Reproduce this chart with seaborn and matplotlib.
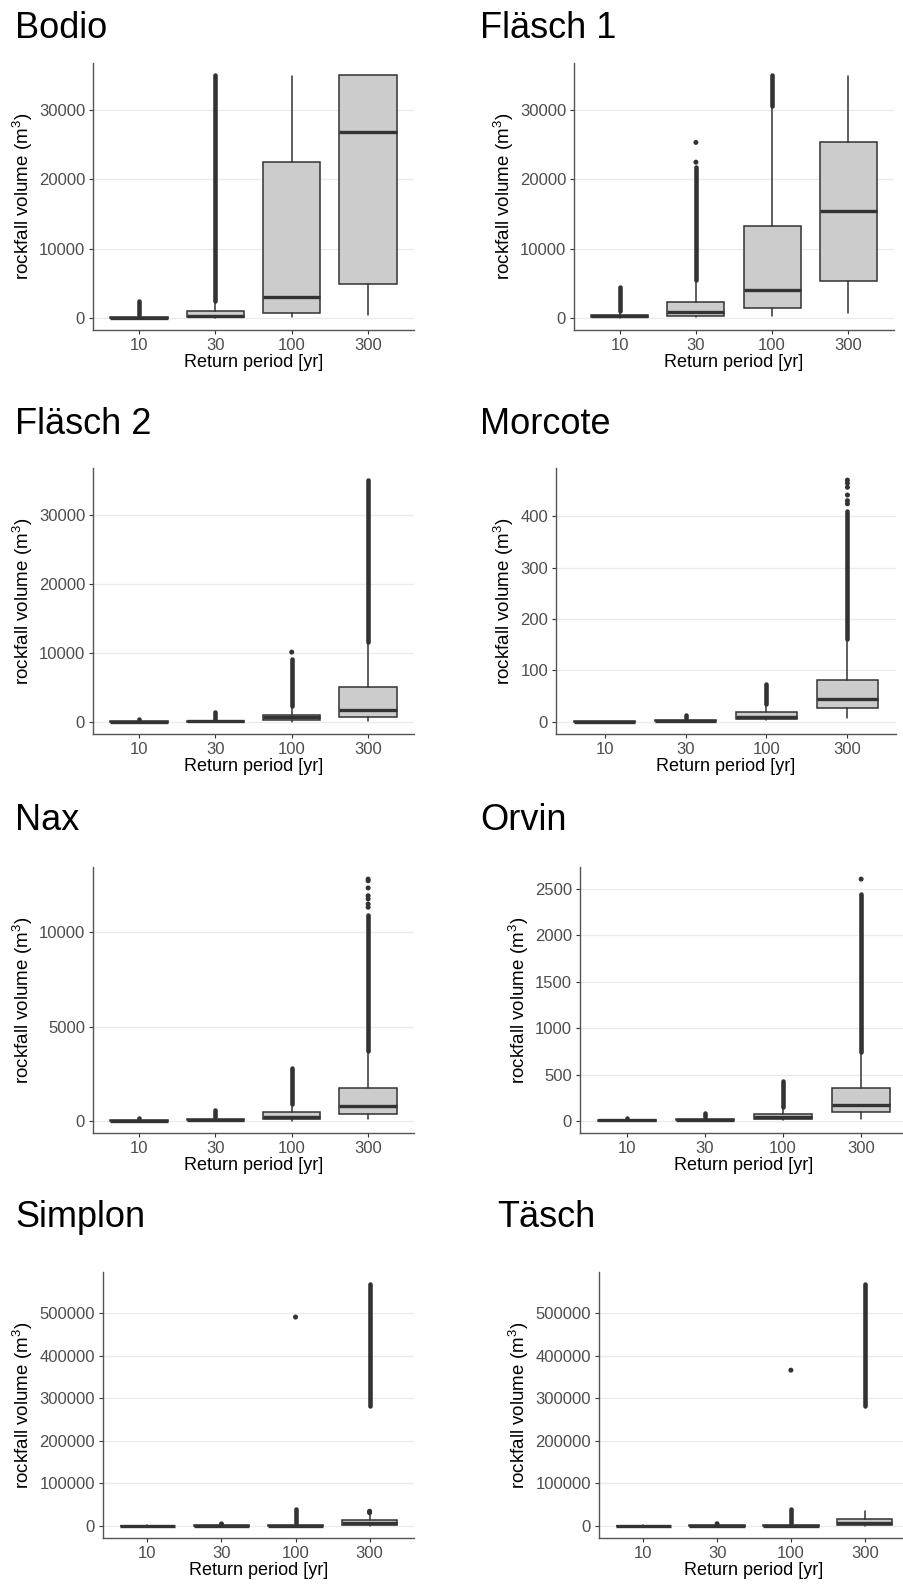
import matplotlib
matplotlib.use("Agg")
import matplotlib.pyplot as plt
import seaborn as sns
import numpy as np

# ---------------------------------------------------------------- data
periods = ["10", "30", "100", "300"]

# Bodio
bodio_q1 = [0, 60, 720, 4860]
bodio_med = [40, 250, 3030, 26770]
bodio_q3 = [120, 1000, 22530, 34950]
bodio_wlo = [0, 0, 150, 480]
bodio_whi = [300, 2300, 34900, 35000]
bodio_band_lo = [350, 2400, None, None]
bodio_band_hi = [2450, 35000, None, None]
bodio_dots = [[], [], [], []]

# Fläsch 1
flasch1_q1 = [60, 290, 1490, 5340]
flasch1_med = [250, 820, 4000, 15450]
flasch1_q3 = [480, 2310, 13190, 25320]
flasch1_wlo = [0, 100, 240, 770]
flasch1_whi = [1000, 5300, 30500, 34900]
flasch1_band_lo = [1050, 5400, 30600, None]
flasch1_band_hi = [4380, 21700, 35000, None]
flasch1_dots = [[], [22450, 25300], [], []]

# Fläsch 2
flasch2_q1 = [0, 20, 240, 670]
flasch2_med = [20, 60, 670, 1690]
flasch2_q3 = [80, 160, 1010, 5060]
flasch2_wlo = [0, 0, 20, 100]
flasch2_whi = [180, 350, 2200, 11400]
flasch2_band_lo = [200, 400, 2300, 11500]
flasch2_band_hi = [430, 1450, 9100, 35000]
flasch2_dots = [[], [], [10100], []]

# Morcote
morcote_q1 = [0.2, 1.5, 6, 27]
morcote_med = [0.5, 2.5, 10, 45]
morcote_q3 = [1.0, 4, 19, 81]
morcote_wlo = [0, 0.5, 3, 8]
morcote_whi = [2, 7, 34, 160]
morcote_band_lo = [None, 8, 35, 162]
morcote_band_hi = [None, 14, 73, 410]
morcote_dots = [[], [], [], [424, 430, 441, 456, 464, 470]]

# Nax
nax_q1 = [5, 30, 105, 370]
nax_med = [15, 50, 210, 770]
nax_q3 = [30, 90, 460, 1740]
nax_wlo = [0, 0, 20, 100]
nax_whi = [70, 170, 860, 3670]
nax_band_lo = [80, 190, 900, 3700]
nax_band_hi = [160, 600, 2780, 10900]
nax_dots = [[], [], [], [11320, 11490, 11760, 11930, 12340, 12720, 12810]]

# Orvin
orvin_q1 = [2, 10, 18, 97]
orvin_med = [5, 15, 43, 176]
orvin_q3 = [10, 22, 79, 351]
orvin_wlo = [0, 0, 5, 20]
orvin_whi = [20, 40, 140, 731]
orvin_band_lo = [22, 45, 150, 740]
orvin_band_hi = [30, 85, 427, 2450]
orvin_dots = [[], [], [], [2608]]

# Simplon
simplon_q1 = [0, 0, 0, 2400]
simplon_med = [200, 300, 500, 6300]
simplon_q3 = [800, 1000, 1500, 13200]
simplon_wlo = [0, 0, 0, 0]
simplon_whi = [1800, 2200, 3500, 26600]
simplon_band_lo = [None, None, 4000, 282600]
simplon_band_hi = [None, None, 40000, 568000]
simplon_dots = [[], [4700], [490600], [31000, 33000, 34400]]

# Täsch
tasch_q1 = [0, 0, 0, 1400]
tasch_med = [200, 300, 500, 7000]
tasch_q3 = [800, 1000, 2000, 16500]
tasch_wlo = [0, 0, 0, 0]
tasch_whi = [2000, 2500, 4000, 34400]
tasch_band_lo = [None, None, 4500, 282600]
tasch_band_hi = [None, None, 40000, 568000]
tasch_dots = [[], [5000], [365800], []]

# tick spacing of the value axis for each site
bodio_step, flasch1_step, flasch2_step, morcote_step = 10000, 10000, 10000, 100
nax_step, orvin_step, simplon_step, tasch_step = 5000, 500, 100000, 100000

# ---------------------------------------------------------------- style
sns.set_theme(style="ticks")
plt.rcParams["font.family"] = ["Liberation Sans", "DejaVu Sans"]
plt.rcParams["mathtext.default"] = "regular"

W, H = 904, 1587
fig = plt.figure(figsize=(W / 100, H / 100), dpi=100)
fig.patch.set_facecolor("white")

DARK = "#333333"
FILL = "#CCCCCC"
GRID = "#EBEBEB"
TICKTXT = "#4D4D4D"


def px_axes(left, top, right, bottom):
    """Axes placed by pixel edges measured from the top-left corner."""
    return fig.add_axes([left / W, 1 - bottom / H, (right - left) / W,
                         (bottom - top) / H])


def panel(ax, q1, med, q3, wlo, whi, band_lo, band_hi, dots, step):
    pos = np.arange(len(periods))
    stats = [dict(q1=a, med=m, q3=b, whislo=lo, whishi=hi, fliers=[])
             for a, m, b, lo, hi in zip(q1, med, q3, wlo, whi)]
    ax.bxp(stats, positions=pos, widths=0.75, patch_artist=True,
           showcaps=False, showfliers=False,
           boxprops=dict(facecolor=FILL, edgecolor=DARK, linewidth=1.1),
           medianprops=dict(color=DARK, linewidth=2.4, solid_capstyle="butt"),
           whiskerprops=dict(color=DARK, linewidth=1.1))

    # dense runs of outliers merge into a solid column
    for p, lo, hi in zip(pos, band_lo, band_hi):
        if lo is None:
            continue
        ax.plot([p, p], [lo, hi], color=DARK, linewidth=3.3,
                solid_capstyle="round", zorder=4)

    # isolated outliers
    xs = [p for p, d in zip(pos, dots) for _ in d]
    ys = [v for d in dots for v in d]
    if xs:
        sns.scatterplot(x=xs, y=ys, ax=ax, s=13, color=DARK,
                        edgecolor="none", legend=False, zorder=5)

    vals = [v for v in q1 + q3 + wlo + whi if v is not None]
    vals += [v for v in band_hi if v is not None]
    vals += [v for d in dots for v in d]
    lo, hi = min(vals), max(vals)
    rng = hi - lo
    ax.set_ylim(lo - 0.05 * rng, hi + 0.05 * rng)
    ax.set_xlim(-0.6, len(periods) - 0.4)

    ax.set_yticks(np.arange(0, hi + 1e-9, step))
    ax.yaxis.set_major_formatter(matplotlib.ticker.FuncFormatter(
        lambda v, _: f"{v:.0f}"))
    ax.set_xticks(pos)
    ax.set_xticklabels(periods)

    ax.grid(axis="y", color=GRID, linewidth=1.0)
    ax.grid(axis="x", visible=False)
    ax.set_axisbelow(True)
    ax.set_facecolor("white")
    sns.despine(ax=ax)
    for s in ("left", "bottom"):
        ax.spines[s].set_color("#555555")
        ax.spines[s].set_linewidth(1.0)
    ax.tick_params(axis="both", colors=DARK, length=3.2, width=0.8,
                   labelsize=12, labelcolor=TICKTXT, pad=2.5)
    ax.set_xlabel("Return period [yr]", fontsize=13, color="black",
                  labelpad=1)
    ax.set_ylabel("rockfall volume (m$^3$)", fontsize=13.5, color="black",
                  labelpad=3)


def title(x, baseline, text):
    fig.text(x / W, 1 - baseline / H, text, fontsize=26, color="black",
             ha="left", va="baseline")


# ---------------------------------------------------------------- panels
ax = px_axes(93, 63, 414, 330)
panel(ax, bodio_q1, bodio_med, bodio_q3, bodio_wlo, bodio_whi,
      bodio_band_lo, bodio_band_hi, bodio_dots, bodio_step)
title(15, 37.5, "Bodio")

ax = px_axes(574, 63, 894, 330)
panel(ax, flasch1_q1, flasch1_med, flasch1_q3, flasch1_wlo,
      flasch1_whi, flasch1_band_lo, flasch1_band_hi, flasch1_dots,
      flasch1_step)
title(480, 37.5, "Fläsch 1")

ax = px_axes(93, 468, 414, 734)
panel(ax, flasch2_q1, flasch2_med, flasch2_q3, flasch2_wlo,
      flasch2_whi, flasch2_band_lo, flasch2_band_hi, flasch2_dots,
      flasch2_step)
title(15, 433.5, "Fläsch 2")

ax = px_axes(556, 468, 896, 734)
panel(ax, morcote_q1, morcote_med, morcote_q3, morcote_wlo,
      morcote_whi, morcote_band_lo, morcote_band_hi, morcote_dots,
      morcote_step)
title(480, 433.5, "Morcote")

ax = px_axes(93, 867, 414, 1133)
panel(ax, nax_q1, nax_med, nax_q3, nax_wlo, nax_whi,
      nax_band_lo, nax_band_hi, nax_dots, nax_step)
title(15, 830, "Nax")

ax = px_axes(580, 867, 908, 1133)
panel(ax, orvin_q1, orvin_med, orvin_q3, orvin_wlo, orvin_whi,
      orvin_band_lo, orvin_band_hi, orvin_dots, orvin_step)
title(480, 830, "Orvin")

ax = px_axes(103, 1272, 414, 1538)
panel(ax, simplon_q1, simplon_med, simplon_q3, simplon_wlo,
      simplon_whi, simplon_band_lo, simplon_band_hi, simplon_dots,
      simplon_step)
title(15, 1227, "Simplon")

ax = px_axes(599, 1272, 909, 1538)
panel(ax, tasch_q1, tasch_med, tasch_q3, tasch_wlo, tasch_whi,
      tasch_band_lo, tasch_band_hi, tasch_dots, tasch_step)
title(497, 1227, "Täsch")

fig.savefig("out.png", dpi=100, facecolor="white")
